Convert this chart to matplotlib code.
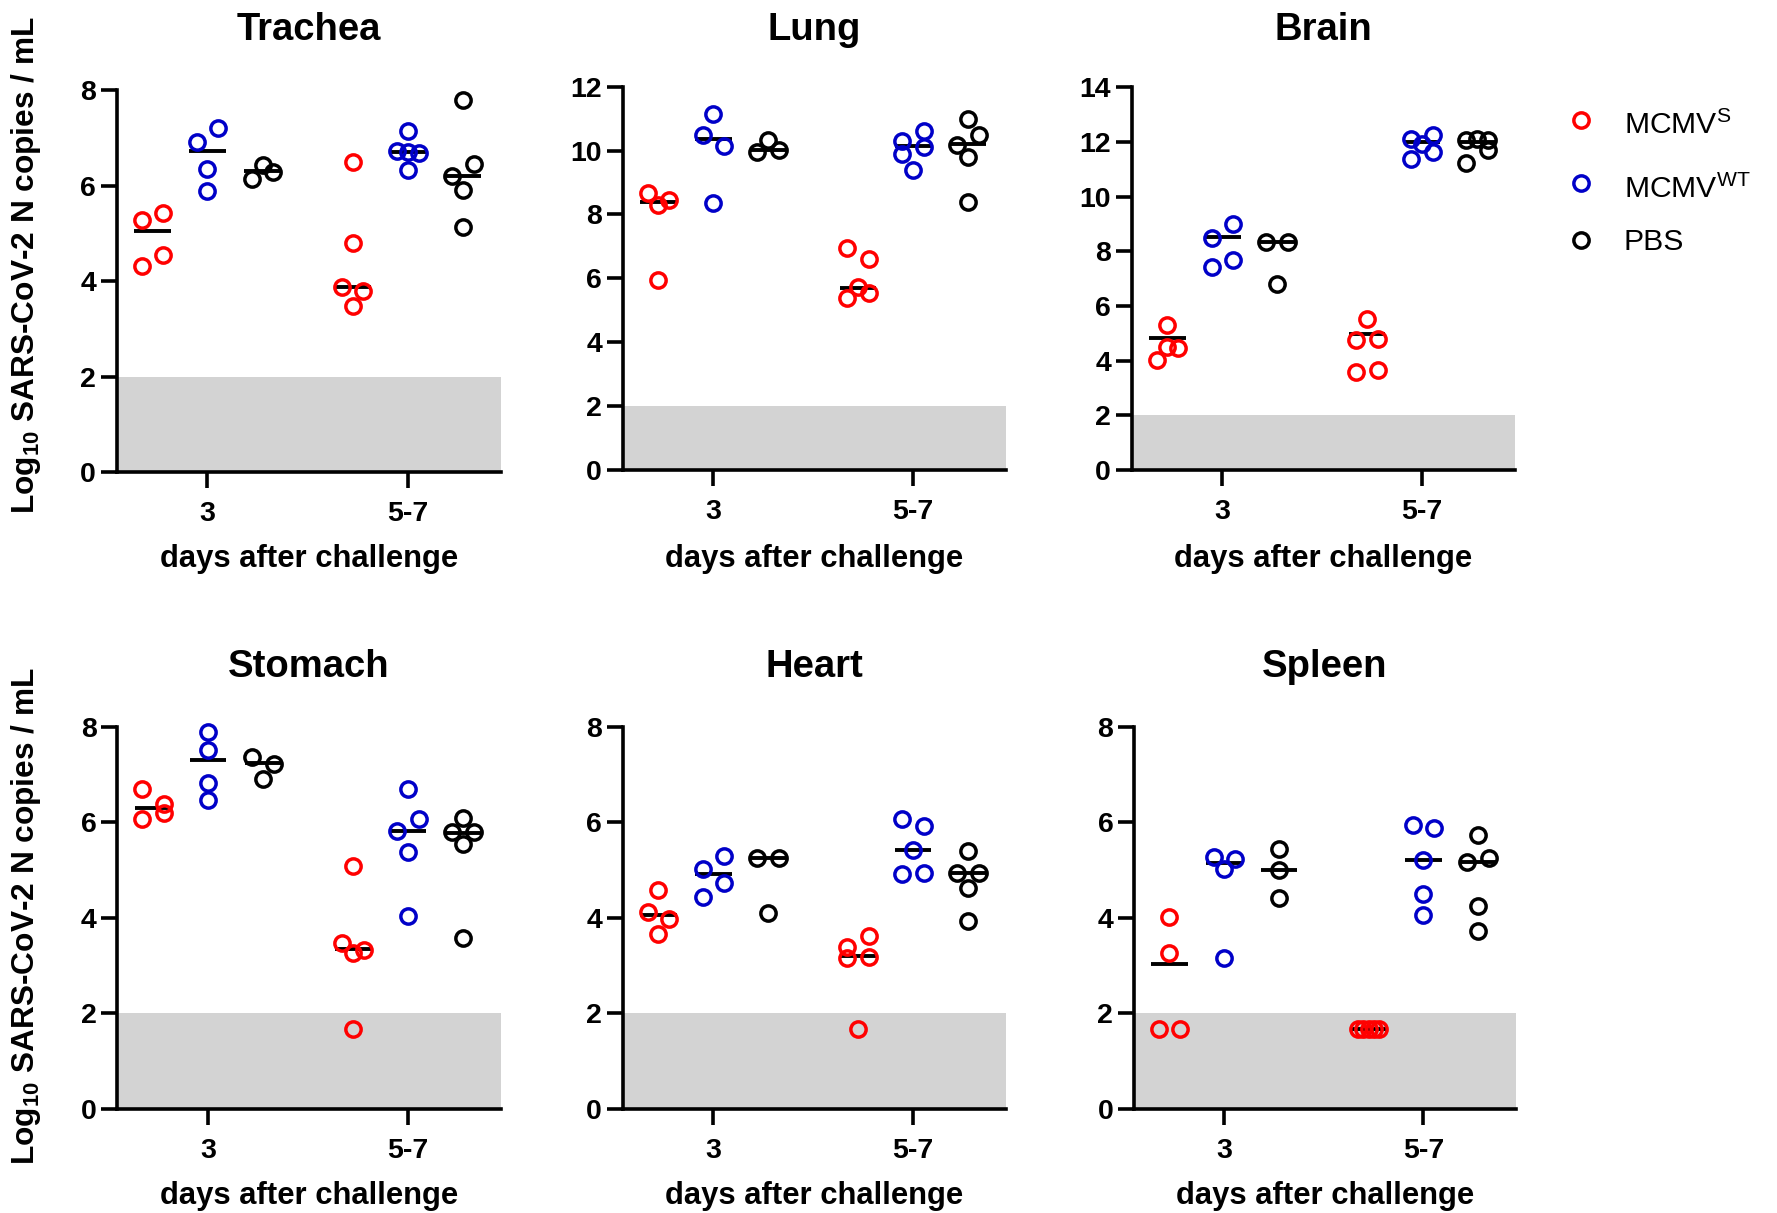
import matplotlib
matplotlib.use('Agg')
import matplotlib.pyplot as plt
from matplotlib.lines import Line2D
import numpy as np

plt.rcParams['font.family'] = ['Liberation Sans', 'DejaVu Sans']
plt.rcParams['mathtext.fontset'] = 'custom'
plt.rcParams['mathtext.rm'] = 'Liberation Sans'
plt.rcParams['mathtext.bf'] = 'Liberation Sans:bold'
plt.rcParams['mathtext.default'] = 'regular'

# ---------------- data (log10 copies / mL) ----------------
days = ['3', '5-7']
group_labels = ['MCMV$^{S}$', 'MCMV$^{WT}$', 'PBS']
group_colors = ['#ff0000', '#0000c8', '#000000']
organs = ['Trachea', 'Lung', 'Brain', 'Stomach', 'Heart', 'Spleen']
y_max = [8, 12, 14, 8, 8, 8]
detection_limit = 2

# each list: [day 3 values, day 5-7 values]
trachea_S = [[5.29, 5.43, 4.32, 4.55], [6.49, 4.79, 3.88, 3.79, 3.47]]
trachea_WT = [[6.92, 7.20, 6.35, 5.89], [7.15, 6.72, 6.70, 6.69, 6.33]]
trachea_PBS = [[6.13, 6.43, 6.29], [7.79, 6.20, 6.46, 5.91, 5.14]]
trachea_med = [[5.05, 6.73, 6.31], [3.88, 6.71, 6.20]]

lung_S = [[8.66, 8.30, 8.46, 5.95], [6.94, 6.60, 5.38, 5.74, 5.55]]
lung_WT = [[11.14, 10.49, 10.15, 8.35], [10.31, 10.62, 9.90, 10.10, 9.39]]
lung_PBS = [[9.94, 10.33, 10.02], [10.98, 10.18, 10.49, 9.79, 8.38]]
lung_med = [[8.40, 10.35, 10.02], [5.71, 10.13, 10.21]]

brain_S = [[5.30, 4.02, 4.51, 4.45], [5.54, 4.75, 4.81, 3.59, 3.65]]
brain_WT = [[8.49, 8.99, 7.43, 7.67], [12.12, 11.92, 12.24, 11.39, 11.63]]
brain_PBS = [[8.34, 8.34, 6.80], [12.06, 12.10, 12.06, 11.23, 11.69]]
brain_med = [[4.84, 8.53, 8.34], [4.97, 12.0, 12.0]]

stomach_S = [[6.69, 6.06, 6.38, 6.20], [5.08, 3.47, 3.27, 3.33, 1.67]]
stomach_WT = [[7.88, 7.52, 6.83, 6.46], [6.69, 5.82, 6.06, 5.37, 4.04]]
stomach_PBS = [[7.37, 7.22, 6.90], [5.79, 6.08, 5.79, 5.54, 3.57]]
stomach_med = [[6.30, 7.30, 7.23], [3.34, 5.82, 5.78]]

heart_S = [[4.58, 4.12, 3.97, 3.66], [3.38, 3.62, 3.15, 3.19, 1.67]]
heart_WT = [[5.03, 5.30, 4.43, 4.73], [6.07, 5.92, 5.43, 4.92, 4.93]]
heart_PBS = [[5.26, 5.26, 4.11], [5.40, 4.93, 4.63, 4.93, 3.93]]
heart_med = [[4.06, 4.92, 5.26], [3.21, 5.43, 4.93]]

spleen_S = [[4.02, 3.26, 1.67, 1.67], [1.67, 1.67, 1.67, 1.67, 1.67]]
spleen_WT = [[5.28, 5.03, 5.24, 3.17], [5.94, 5.88, 5.22, 4.50, 4.06]]
spleen_PBS = [[5.45, 5.00, 4.41], [5.73, 5.16, 5.26, 4.25, 3.73]]
spleen_med = [[3.03, 5.15, 5.00], [1.67, 5.21, 5.16]]

organ_data = [
    ([trachea_S, trachea_WT, trachea_PBS], trachea_med),
    ([lung_S, lung_WT, lung_PBS], lung_med),
    ([brain_S, brain_WT, brain_PBS], brain_med),
    ([stomach_S, stomach_WT, stomach_PBS], stomach_med),
    ([heart_S, heart_WT, heart_PBS], heart_med),
    ([spleen_S, spleen_WT, spleen_PBS], spleen_med),
]

# ---------------- layout ----------------
W, H = 1777, 1213
fig = plt.figure(figsize=(W / 100, H / 100), dpi=100)

# axes boxes in pixels (left, top, right, bottom)
boxes = [
    (116.7, 90.0, 501.0, 472.3),
    (622.7, 86.7, 1006.0, 470.0),
    (1131.7, 87.3, 1515.0, 470.0),
    (117.3, 726.7, 501.0, 1109.0),
    (622.7, 726.7, 1006.0, 1109.0),
    (1134.0, 726.7, 1516.0, 1109.0),
]
title_baseline = [40.5, 40.5, 40.5, 677.0, 677.0, 677.0]
xlabel_baseline = [567.3, 567.3, 567.3, 1204.0, 1204.0, 1204.0]

xlim = (0.547, 2.465)
group_shift = 0.275
median_half = 0.0915
step_px = 10.7
span_px = 15.4


def swarm_offsets(vals, ypx_per_unit):
    """GraphPad-like row spreading; returns x offsets in pixels."""
    n = len(vals)
    order = sorted(range(n), key=lambda i: -vals[i])
    clusters = []
    cur = [order[0]]
    for i in order[1:]:
        same = all(abs(vals[i] - vals[j]) * ypx_per_unit < 0.5 for j in cur)
        span = (vals[cur[0]] - vals[i]) * ypx_per_unit
        if same or (span <= span_px and len(cur) < 3):
            cur.append(i)
        else:
            clusters.append(cur)
            cur = [i]
    clusters.append(cur)
    offs = np.zeros(n)
    for c in clusters:
        c = sorted(c)
        if len(c) > 1:
            for k, o in zip(c, np.linspace(-step_px, step_px, len(c))):
                offs[k] = o
    return offs


marker_kw = dict(marker='o', linestyle='none', markersize=11,
                 markeredgewidth=2.5, markerfacecolor='none')

for idx, (organ, (series, meds)) in enumerate(zip(organs, organ_data)):
    l, t, r, b = boxes[idx]
    ax = fig.add_axes([l / W, 1 - b / H, (r - l) / W, (b - t) / H])
    ymax = y_max[idx]
    ax.set_xlim(*xlim)
    ax.set_ylim(0, ymax)
    xpx = (r - l) / (xlim[1] - xlim[0])
    ypx = (b - t) / ymax

    ax.axhspan(0, detection_limit, color='#d3d3d3', lw=0, zorder=0)

    for d in range(2):
        for g in range(3):
            vals = series[g][d]
            xc = (d + 1) + (g - 1) * group_shift
            offs = swarm_offsets(vals, ypx) / xpx
            ax.hlines(meds[d][g], xc - median_half, xc + median_half,
                      color='black', lw=2.8, zorder=3)
            ax.plot(xc + offs, vals, color=group_colors[g],
                    markeredgecolor=group_colors[g], zorder=4,
                    clip_on=False, **marker_kw)

    ax.set_xticks([1, 2])
    ax.set_xticklabels(days)
    ax.set_yticks(np.arange(0, ymax + 1, 2))
    for s in ['top', 'right']:
        ax.spines[s].set_visible(False)
    for s in ['left', 'bottom']:
        ax.spines[s].set_linewidth(2.6)
    ax.tick_params(axis='both', length=11.5, width=2.6, labelsize=20.5)
    ax.tick_params(axis='x', pad=9.5)
    ax.tick_params(axis='y', pad=3.4)
    for lab in ax.get_xticklabels() + ax.get_yticklabels():
        lab.set_fontweight('bold')

    ax.set_title(organ, fontsize=27.5, fontweight='bold',
                 pad=(t - title_baseline[idx]) * 0.72)
    ax.set_xlabel('days after challenge', fontsize=22.3, fontweight='bold')
    ax.xaxis.label.set_va('baseline')
    ax.xaxis.set_label_coords(0.5, -(xlabel_baseline[idx] - b) / (b - t))

# y-axis labels
ylab = 'Log$_{10}$ SARS-CoV-2 N copies / mL'
for yc in [265.0, 916.0]:
    fig.text(26 / W, 1 - yc / H, ylab, rotation=90, ha='center', va='center',
             fontsize=22.8, fontweight='bold')

# legend
leg_rows = [(120.0, 134.5), (183.3, 198.0), (240.0, 249.5)]
for g, (my, ty) in enumerate(leg_rows):
    fig.add_artist(Line2D([1581.0 / W], [1 - my / H], transform=fig.transFigure,
                          color=group_colors[g], markeredgecolor=group_colors[g],
                          **marker_kw))
    fig.text(1624.0 / W, 1 - ty / H, group_labels[g], fontsize=21.7,
             fontweight='normal', ha='left', va='baseline')

fig.savefig('out.png', dpi=100)
